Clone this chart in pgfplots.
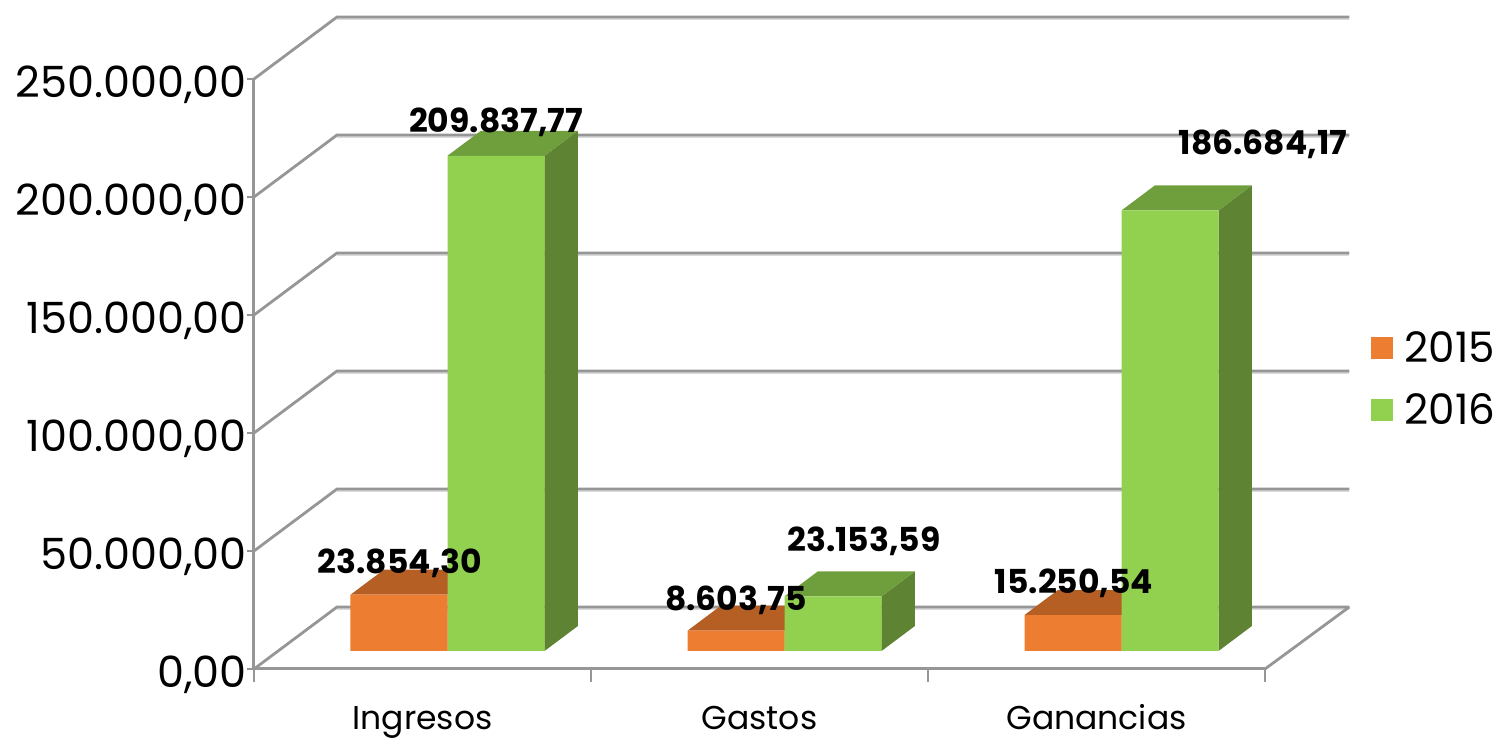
\documentclass[border=0pt]{standalone}
\usepackage{pgfplots}
\usepackage{fontspec}
\setmainfont{Poppins}
\pgfplotsset{compat=1.18}
\definecolor{gridc}{HTML}{969696}
\definecolor{gridl}{HTML}{DADADA}
\definecolor{orF}{HTML}{ED7D31}
\definecolor{orT}{HTML}{B55F25}
\definecolor{grF}{HTML}{92D050}
\definecolor{grT}{HTML}{6F9E3D}
\definecolor{grS}{HTML}{5E8433}
% depth faces of one bar: front left x, front right x, back left x, back right x, front top y, back top y, top colour, side colour
\newcommand{\Faces}[8]{%
  \addplot[fill=#8,draw=none,forget plot] coordinates {(#2,7627)(#4,18220)(#4,#6)(#2,#5)};
  \addplot[fill=#7,draw=none,forget plot] coordinates {(#1,#5)(#2,#5)(#4,#6)(#3,#6)};
}
\newcommand{\Wall}[2]{%
  \addplot[gridl,line width=1pt,yshift=-1pt,forget plot] coordinates {(-0.2537,#2)(2.75,#2)};
  \addplot[gridc,line width=1.4pt,forget plot] coordinates {(-0.5,#1)(-0.2537,#2)(2.75,#2)};
}
\begin{document}
\begin{tikzpicture}
\path[use as bounding box] (0,0) rectangle (749.5pt,369pt);
\begin{axis}[
  at={(127pt,34.5pt)},anchor=south west,
  scale only axis,width=505.5pt,height=295pt,
  xmin=-0.5,xmax=2.5,ymin=0,ymax=250000,
  clip=false,
  axis lines*=left,
  axis line style={-,gridc,line width=1.5pt},
  xtick={0,1,2},
  xticklabels={Ingresos,Gastos,Ganancias},
  minor xtick={-0.5,0.5,1.5,2.5},
  major x tick style={draw=none},
  minor x tick style={gridc,line width=1pt},
  minor tick length=6.5pt,
  major tick length=3.5pt,
  ytick={0,50000,100000,150000,200000,250000},
  y tick style={gridc,line width=1pt},
  tick align=outside,
  scaled y ticks=false,
  yticklabel style={/pgf/number format/fixed,/pgf/number format/fixed zerofill,/pgf/number format/precision=2,/pgf/number format/1000 sep={.},/pgf/number format/dec sep={,},/pgf/number format/assume math mode=true},
  tick label style={font=\fontsize{21.5}{23}\selectfont,black},
  y tick label style={xshift=2pt,yshift=-3pt,inner sep=2pt},
  x tick label style={yshift=-13.5pt,inner sep=0pt,text height=13pt,text depth=4pt,font=\fontsize{16.5}{18}\selectfont},
  legend style={draw=none,fill=none,at={(axis cs:2.8145,122458)},anchor=west,inner sep=0pt,
    row sep=10pt,font=\fontsize{21}{22}\selectfont},
  legend cell align=left,
  legend image code/.code={\fill[#1] (0pt,-14pt) rectangle (11pt,-3pt);\path (14.5pt,-8pt) circle (0.1pt);},
]
\Wall{0}{26271}
\Wall{50000}{76271}
\Wall{100000}{126271}
\Wall{150000}{176271}
\Wall{200000}{226271}
\Wall{250000}{276271}
\addplot[gridc,line width=1.4pt,forget plot] coordinates {(2.5,0)(2.75,26271)};
% 2015
\Faces{-0.2136}{0.0742}{-0.1145}{0.1733}{31481.30}{42074.30}{orT}{orT}
\Faces{0.7864}{1.0742}{0.8855}{1.1733}{16230.75}{26823.75}{orT}{orT}
\Faces{1.7864}{2.0742}{1.8855}{2.1733}{22877.54}{33470.54}{orT}{orT}
\addplot[ybar,bar width=48.5pt,bar shift=-24.25pt,xshift=12.5pt,yshift=9pt,fill=orF,draw=none]
  coordinates {(0,23854.30)(1,8603.75)(2,15250.54)};
\addlegendentry{2015}
% 2016
\Faces{0.0742}{0.3620}{0.1733}{0.4611}{217464.77}{228057.77}{grT}{grS}
\Faces{1.0742}{1.3620}{1.1733}{1.4611}{30780.59}{41373.59}{grT}{grS}
\Faces{2.0742}{2.3620}{2.1733}{2.4611}{194311.17}{204904.17}{grT}{grS}
\addplot[ybar,bar width=48.5pt,bar shift=24.25pt,xshift=12.5pt,yshift=9pt,fill=grF,draw=none]
  coordinates {(0,209837.77)(1,23153.59)(2,186684.17)};
\addlegendentry{2016}
\tikzset{lab/.style={font=\fontsize{16.5}{18}\selectfont\bfseries,inner sep=0pt,black}}
\node[lab] at (axis cs:-0.0668,44915) {23.854,30};
\node[lab] at (axis cs:0.2181,231780) {209.837,77};
\node[lab] at (axis cs:0.9303,29237) {8.603,75};
\node[lab] at (axis cs:1.3101,54237) {23.153,59};
\node[lab] at (axis cs:1.9332,36441) {15.250,54};
\node[lab] at (axis cs:2.4941,222458) {186.684,17};
\end{axis}
\end{tikzpicture}
\end{document}
